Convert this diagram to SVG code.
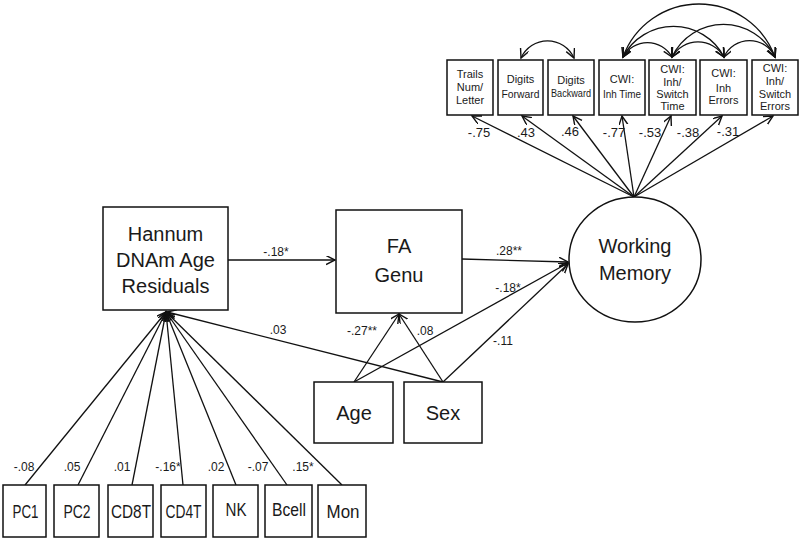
<svg xmlns="http://www.w3.org/2000/svg" width="800" height="542" viewBox="0 0 800 542">
<style>
.box{fill:#fff;stroke:#111;stroke-width:1.5}
.ln{fill:none;stroke:#111;stroke-width:1.3}
.big{font-family:"Liberation Sans",Arial,sans-serif;font-size:20px;fill:#1a1a1a;text-anchor:middle}
.mid{font-family:"Liberation Sans",Arial,sans-serif;font-size:18px;fill:#1a1a1a;text-anchor:middle}
.sm{font-family:"Liberation Sans",Arial,sans-serif;font-size:11px;fill:#1a1a1a;text-anchor:middle}
.lab{font-family:"Liberation Sans",Arial,sans-serif;font-size:12px;fill:#1a1a1a;text-anchor:middle}
.lab13{font-family:"Liberation Sans",Arial,sans-serif;font-size:13px;fill:#1a1a1a;text-anchor:middle}
</style>
<defs>
<marker id="ah" markerUnits="userSpaceOnUse" markerWidth="12" markerHeight="12" refX="9" refY="4.5" orient="auto-start-reverse" viewBox="0 0 12 12">
<path d="M0,0 L9,4.5 L0,9" fill="none" stroke="#111" stroke-width="1.4"/>
</marker>
</defs>
<rect width="800" height="542" fill="#fff"/>

<g id="connectors">
<!-- Hannum -> FA Genu -->
<line class="ln" x1="228" y1="260" x2="335" y2="260" marker-end="url(#ah)"/>
<!-- FA Genu -> WM -->
<line class="ln" x1="462" y1="259" x2="568" y2="262" marker-end="url(#ah)"/>
<!-- Age/Sex -> FA -->
<line class="ln" x1="354" y1="382" x2="399" y2="314" marker-end="url(#ah)"/>
<line class="ln" x1="443" y1="382" x2="399" y2="314" marker-end="url(#ah)"/>
<!-- Age/Sex -> WM -->
<line class="ln" x1="354" y1="382" x2="568" y2="263" marker-end="url(#ah)"/>
<line class="ln" x1="443" y1="382" x2="568" y2="264" marker-end="url(#ah)"/>
<!-- Sex -> Hannum -->
<line class="ln" x1="443" y1="382" x2="167" y2="312" marker-end="url(#ah)"/>
<!-- Cell types -> Hannum -->
<line class="ln" x1="25" y1="485" x2="166" y2="312" marker-end="url(#ah)"/>
<line class="ln" x1="78" y1="485" x2="166" y2="312" marker-end="url(#ah)"/>
<line class="ln" x1="132" y1="485" x2="166" y2="312" marker-end="url(#ah)"/>
<line class="ln" x1="183" y1="485" x2="166" y2="312" marker-end="url(#ah)"/>
<line class="ln" x1="236" y1="485" x2="166" y2="312" marker-end="url(#ah)"/>
<line class="ln" x1="287" y1="485" x2="166" y2="312" marker-end="url(#ah)"/>
<line class="ln" x1="342" y1="485" x2="166" y2="312" marker-end="url(#ah)"/>
<!-- WM -> indicators -->
<line class="ln" x1="634" y1="197" x2="472" y2="116" marker-end="url(#ah)"/>
<line class="ln" x1="634" y1="197" x2="522" y2="116" marker-end="url(#ah)"/>
<line class="ln" x1="634" y1="197" x2="573" y2="116" marker-end="url(#ah)"/>
<line class="ln" x1="634" y1="197" x2="622" y2="116" marker-end="url(#ah)"/>
<line class="ln" x1="634" y1="197" x2="671" y2="116" marker-end="url(#ah)"/>
<line class="ln" x1="634" y1="197" x2="722" y2="116" marker-end="url(#ah)"/>
<line class="ln" x1="634" y1="197" x2="773" y2="116" marker-end="url(#ah)"/>
<!-- covariance arcs -->
<path class="ln" d="M521,58 A29,29 0 0 1 574,58" marker-start="url(#ah)" marker-end="url(#ah)"/>
<path class="ln" d="M623,57 A28,28 0 0 1 672,57" marker-start="url(#ah)" marker-end="url(#ah)"/>
<path class="ln" d="M672,57 A30,30 0 0 1 724,57" marker-start="url(#ah)" marker-end="url(#ah)"/>
<path class="ln" d="M724,57 A28,28 0 0 1 775,57" marker-start="url(#ah)" marker-end="url(#ah)"/>
<path class="ln" d="M623,57 A57,57 0 0 1 724,57" marker-start="url(#ah)" marker-end="url(#ah)"/>
<path class="ln" d="M672,57 A57,57 0 0 1 775,57" marker-start="url(#ah)" marker-end="url(#ah)"/>
<path class="ln" d="M623,57 A81,81 0 0 1 775,57" marker-start="url(#ah)" marker-end="url(#ah)"/>
</g>

<g id="labels">
<text class="lab" x="276" y="256">-.18*</text>
<text class="lab" x="278" y="334">.03</text>
<text class="lab" x="362" y="335">-.27**</text>
<text class="lab" x="425" y="335">.08</text>
<text class="lab" x="509" y="255">.28**</text>
<text class="lab" x="508" y="292">-.18*</text>
<text class="lab" x="503" y="345">-.11</text>
<text class="lab" x="24" y="471">-.08</text>
<text class="lab" x="72" y="471">.05</text>
<text class="lab" x="122" y="471">.01</text>
<text class="lab" x="168" y="471">-.16*</text>
<text class="lab" x="216" y="471">.02</text>
<text class="lab" x="258" y="471">-.07</text>
<text class="lab" x="303" y="471">.15*</text>
<text class="lab13" x="479" y="137">-.75</text>
<text class="lab13" x="526" y="137">.43</text>
<text class="lab13" x="570" y="136">.46</text>
<text class="lab13" x="614" y="137">-.77</text>
<text class="lab13" x="650" y="137">-.53</text>
<text class="lab13" x="688" y="137">-.38</text>
<text class="lab13" x="728" y="136">-.31</text>
</g>

<g id="hannum">
<rect class="box" x="103" y="207" width="125" height="103"/>
<text class="big" x="165.5" y="241">Hannum</text>
<text class="big" x="165.5" y="267">DNAm Age</text>
<text class="big" x="165.5" y="293">Residuals</text>
</g>
<g id="fagenu">
<rect class="box" x="336" y="210" width="126" height="103"/>
<text class="big" x="399" y="253">FA</text>
<text class="big" x="399" y="282">Genu</text>
</g>
<g id="wm">
<ellipse class="box" cx="635" cy="259.5" rx="66" ry="62.5"/>
<text class="big" x="635" y="253">Working</text>
<text class="big" x="635" y="280">Memory</text>
</g>
<g id="age">
<rect class="box" x="314" y="382" width="79" height="61"/>
<text class="big" x="354" y="420">Age</text>
</g>
<g id="sex">
<rect class="box" x="404" y="382" width="78" height="61"/>
<text class="big" x="443" y="420">Sex</text>
</g>

<g id="pc1"><rect class="box" x="3" y="485" width="43" height="52"/><text class="mid" x="25.5" y="518" textLength="26" lengthAdjust="spacingAndGlyphs">PC1</text></g>
<g id="pc2"><rect class="box" x="54" y="485" width="45" height="52"/><text class="mid" x="77" y="518" textLength="27" lengthAdjust="spacingAndGlyphs">PC2</text></g>
<g id="cd8t"><rect class="box" x="108" y="485" width="45" height="52"/><text class="mid" x="131" y="518" textLength="40" lengthAdjust="spacingAndGlyphs">CD8T</text></g>
<g id="cd4t"><rect class="box" x="161" y="485" width="45" height="52"/><text class="mid" x="183.5" y="518" textLength="36" lengthAdjust="spacingAndGlyphs">CD4T</text></g>
<g id="nk"><rect class="box" x="213" y="485" width="45" height="52"/><text class="mid" x="236" y="516" textLength="21" lengthAdjust="spacingAndGlyphs">NK</text></g>
<g id="bcell"><rect class="box" x="265" y="485" width="47" height="52"/><text class="mid" x="289" y="516" textLength="34" lengthAdjust="spacingAndGlyphs">Bcell</text></g>
<g id="mon"><rect class="box" x="318" y="485" width="48" height="52"/><text class="mid" x="343" y="518" textLength="33" lengthAdjust="spacingAndGlyphs">Mon</text></g>

<g id="trails"><rect class="box" x="447" y="60" width="46" height="55"/>
<text class="sm" x="470" y="78">Trails</text><text class="sm" x="470" y="91">Num/</text><text class="sm" x="470" y="104">Letter</text></g>
<g id="digitsf"><rect class="box" x="498" y="60" width="45" height="55"/>
<text class="sm" x="520.5" y="83">Digits</text><text class="sm" x="520.5" y="98" textLength="38" lengthAdjust="spacingAndGlyphs">Forward</text></g>
<g id="digitsb"><rect class="box" x="548" y="60" width="46" height="55"/>
<text class="sm" x="571" y="84" font-size="10">Digits</text><text class="sm" x="571" y="97" textLength="40" lengthAdjust="spacingAndGlyphs">Backward</text></g>
<g id="cwitime"><rect class="box" x="599" y="60" width="46" height="55"/>
<text class="sm" x="622" y="83">CWI:</text><text class="sm" x="622" y="98" textLength="38" lengthAdjust="spacingAndGlyphs">Inh Time</text></g>
<g id="cwiswtime"><rect class="box" x="649" y="60" width="47" height="55"/>
<text class="sm" x="672.5" y="73">CWI:</text><text class="sm" x="672.5" y="86">Inh/</text><text class="sm" x="672.5" y="98">Switch</text><text class="sm" x="672.5" y="110">Time</text></g>
<g id="cwierr"><rect class="box" x="700" y="60" width="47" height="55"/>
<text class="sm" x="723.5" y="77">CWI:</text><text class="sm" x="723.5" y="92">Inh</text><text class="sm" x="723.5" y="104">Errors</text></g>
<g id="cwiswerr"><rect class="box" x="752" y="60" width="46" height="55"/>
<text class="sm" x="775" y="72">CWI:</text><text class="sm" x="775" y="85">Inh/</text><text class="sm" x="775" y="98">Switch</text><text class="sm" x="775" y="110">Errors</text></g>
</svg>
